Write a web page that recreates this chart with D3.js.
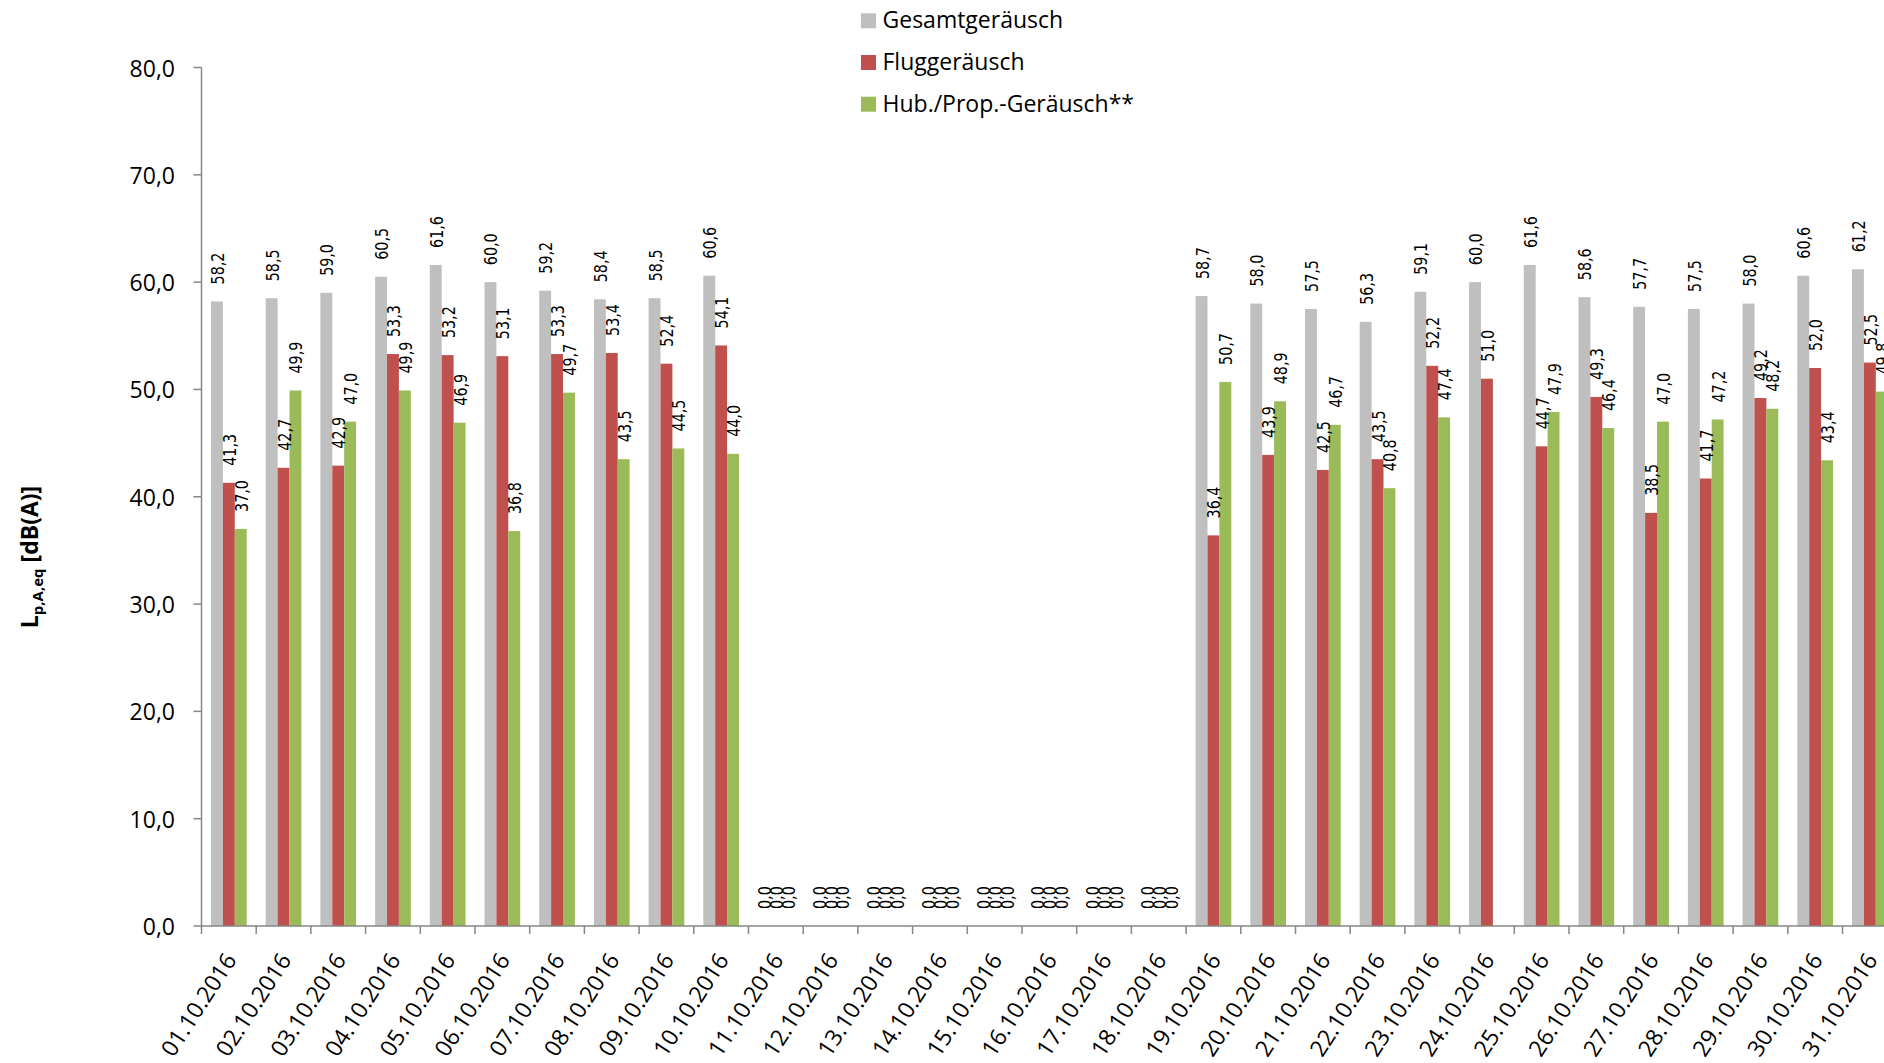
<!DOCTYPE html>
<html>
<head>
<meta charset="utf-8">
<script src="https://d3js.org/d3.v7.min.js"></script>
<style>
  html, body { margin: 0; padding: 0; background: #fff; overflow: hidden; }
  svg { display: block; }
</style>
</head>
<body>
<script>
// ---- data ----
const dates = ["01.10.2016","02.10.2016","03.10.2016","04.10.2016","05.10.2016","06.10.2016","07.10.2016","08.10.2016","09.10.2016","10.10.2016","11.10.2016","12.10.2016","13.10.2016","14.10.2016","15.10.2016","16.10.2016","17.10.2016","18.10.2016","19.10.2016","20.10.2016","21.10.2016","22.10.2016","23.10.2016","24.10.2016","25.10.2016","26.10.2016","27.10.2016","28.10.2016","29.10.2016","30.10.2016","31.10.2016"];
const gesamt = [58.2,58.5,59.0,60.5,61.6,60.0,59.2,58.4,58.5,60.6,0,0,0,0,0,0,0,0,58.7,58.0,57.5,56.3,59.1,60.0,61.6,58.6,57.7,57.5,58.0,60.6,61.2];
const flug   = [41.3,42.7,42.9,53.3,53.2,53.1,53.3,53.4,52.4,54.1,0,0,0,0,0,0,0,0,36.4,43.9,42.5,43.5,52.2,51.0,44.7,49.3,38.5,41.7,49.2,52.0,52.5];
const hub    = [37.0,49.9,47.0,49.9,46.9,36.8,49.7,43.5,44.5,44.0,0,0,0,0,0,0,0,0,50.7,48.9,46.7,40.8,47.4,null,47.9,46.4,47.0,47.2,48.2,43.4,49.8];
const seriesNames = ["Gesamtgeräusch","Fluggeräusch","Hub./Prop.-Geräusch**"];
const seriesColors = ["#BFBFBF","#C0504D","#9BBB59"];
const yTicks = [0,10,20,30,40,50,60,70,80];

// ---- layout ----
const W = 1884, H = 1063;
const x0 = 201.5, step = 54.7;
const svg = d3.select("body").append("svg").attr("width", W).attr("height", H);

const x = d3.scaleBand().domain(dates).range([x0, x0 + step * dates.length]).padding(0);
const x1 = d3.scaleBand().domain(seriesNames).range([9.5, 9.5 + 3 * 11.9]).padding(0);
const y = d3.scaleLinear().domain([0, 80]).range([926, 67.5]);
const fmt = v => d3.format(".1f")(v).replace(".", ",");

const seriesData = [gesamt, flug, hub];

// bars
seriesData.forEach((vals, si) => {
  const g = svg.append("g");
  const pts = dates.map((d, i) => ({d, v: vals[i]})).filter(p => p.v !== null);
  g.selectAll("rect").data(pts).join("rect")
    .attr("x", p => x(p.d) + x1(seriesNames[si]))
    .attr("y", p => y(p.v))
    .attr("width", x1.bandwidth())
    .attr("height", p => y(0) - y(p.v))
    .attr("fill", seriesColors[si]);
});

// data labels
seriesData.forEach((vals, si) => {
  const pts = dates.map((d, i) => ({d, v: vals[i]})).filter(p => p.v !== null);
  svg.append("g").selectAll("text").data(pts).join("text")
    .attr("transform", p => `translate(${x(p.d) + x1(seriesNames[si]) + x1.bandwidth() / 2 + 1},${y(p.v) - 17}) rotate(-90) scale(1,1.22)`)
    .attr("text-anchor", "start")
    .attr("dominant-baseline", "central")
    .attr("font-family", "DejaVu Sans")
    .attr("font-size", "14.3px")
    .attr("fill", "#000")
    .text(p => fmt(p.v));
});

// y axis
const yAxis = svg.append("g");
yAxis.append("line").attr("x1", x0).attr("x2", x0).attr("y1", y(80)).attr("y2", y(0))
  .attr("stroke", "#868686").attr("stroke-width", 1.5);
yAxis.selectAll("line.tick").data(yTicks).join("line").attr("class", "tick")
  .attr("x1", x0 - 8).attr("x2", x0).attr("y1", d => y(d)).attr("y2", d => y(d))
  .attr("stroke", "#868686").attr("stroke-width", 1.5);
yAxis.selectAll("text").data(yTicks).join("text")
  .attr("x", 175).attr("y", d => y(d))
  .attr("text-anchor", "end").attr("dominant-baseline", "central")
  .attr("font-family", "Open Sans").attr("font-size", "23px").attr("fill", "#000")
  .text(d => fmt(d));

// x axis
const xAxis = svg.append("g");
xAxis.append("line").attr("x1", x0).attr("x2", x0 + step * dates.length).attr("y1", y(0)).attr("y2", y(0))
  .attr("stroke", "#868686").attr("stroke-width", 1.5);
xAxis.selectAll("line.tick").data(d3.range(dates.length + 1)).join("line").attr("class", "tick")
  .attr("x1", i => x0 + i * step).attr("x2", i => x0 + i * step)
  .attr("y1", y(0)).attr("y2", y(0) + 8)
  .attr("stroke", "#868686").attr("stroke-width", 1.5);
xAxis.selectAll("text").data(dates).join("text")
  .attr("transform", d => `translate(${x(d) + x.bandwidth() / 2 + 1},955) rotate(-57)`)
  .attr("text-anchor", "end").attr("dominant-baseline", "central")
  .attr("font-family", "Open Sans").attr("font-size", "23px").attr("fill", "#000")
  .text(d => d);

// y axis title
const yt = svg.append("text")
  .attr("transform", "translate(38,557) rotate(-90)")
  .attr("text-anchor", "middle")
  .attr("font-family", "Open Sans").attr("font-weight", "bold").attr("font-size", "23px").attr("fill", "#000");
yt.append("tspan").text("L");
yt.append("tspan").attr("dy", 5).attr("font-size", "15px").text("p,A,eq");
yt.append("tspan").attr("dy", -5).text(" [dB(A)]");

// legend
const leg = svg.append("g");
seriesNames.forEach((n, i) => {
  const by = 28.3 + i * 41.7;
  leg.append("rect").attr("x", 861).attr("y", by - 15).attr("width", 15).attr("height", 15).attr("fill", seriesColors[i]);
  leg.append("text").attr("x", 882.5).attr("y", by)
    .attr("font-family", "Open Sans").attr("font-size", "23px").attr("fill", "#000").text(n);
});
</script>
</body>
</html>
